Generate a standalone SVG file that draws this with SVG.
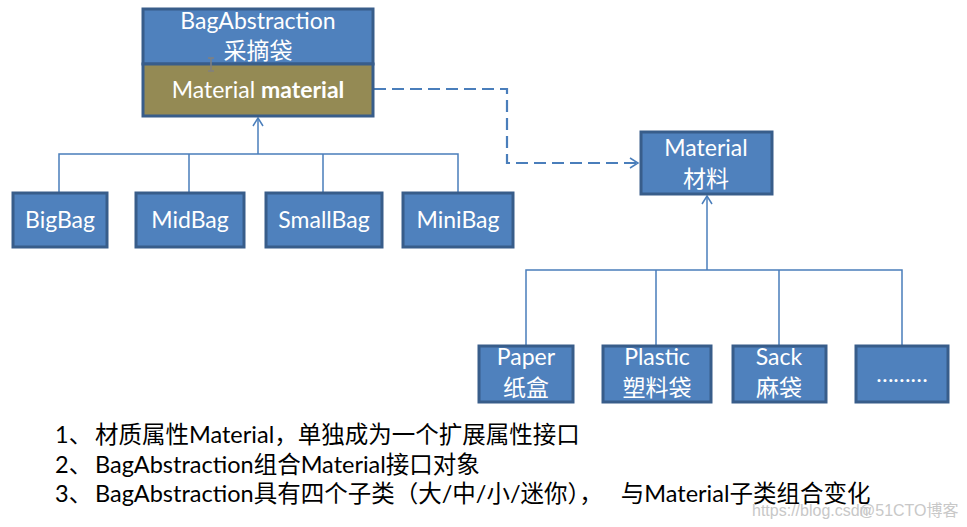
<svg xmlns="http://www.w3.org/2000/svg" width="967" height="527" viewBox="0 0 967 527">
<style>
.box{fill:#4f81bd;stroke:#385d8a;stroke-width:3}
.olive{fill:#948a54;stroke:#385d8a;stroke-width:3}
.t{font-family:Lato,"Noto Sans CJK SC",sans-serif;fill:#fff;font-size:23px;text-anchor:middle}
.c{font-family:"Noto Sans CJK SC",sans-serif;fill:#fff;font-size:23px;text-anchor:middle}
.ln{fill:none;stroke:#4a7ebb;stroke-width:1.5}
.dash{fill:none;stroke:#4a7ebb;stroke-width:2.2;stroke-dasharray:12,6}
.note{font-family:Lato,"Noto Sans CJK SC",sans-serif;fill:#000;font-size:23.5px}
.wm{font-family:"Liberation Sans","Noto Sans CJK SC",sans-serif;fill:#c8c8c8;font-size:16px}
</style>
<defs>
<marker id="arr" markerWidth="12" markerHeight="12" refX="10" refY="6" orient="auto" markerUnits="userSpaceOnUse">
<path d="M2,1 L10,6 L2,11" fill="none" stroke="#4a7ebb" stroke-width="1.5"/>
</marker>
</defs>
<g id="connectors">
<path class="ln" d="M59,192 V154 H458 V192 M189,192 V154 M323,192 V154"/>
<path class="ln" d="M258,154 V118" marker-end="url(#arr)"/>
<path class="ln" d="M526,346 V270 H902 V346 M656,346 V270 M779,346 V270"/>
<path class="ln" d="M707,270 V196" marker-end="url(#arr)"/>
<path class="dash" d="M374,89 H507 V163 H638" marker-end="url(#arr)"/>
</g>
<g id="BagAbstraction">
<rect class="box" x="143" y="9" width="230" height="55"/>
<rect class="olive" x="143" y="64" width="230" height="52"/>
<text class="t" x="258" y="29">BagAbstraction</text>
<text class="c" x="258" y="59">采摘袋</text>
<path d="M208,58 H214 M211,58 V71 M208,71 H214" stroke="#808080" stroke-width="1.5" fill="none"/>
<text class="t" x="258" y="98">Material <tspan font-weight="bold">material</tspan></text>
</g>
<g id="Material">
<rect class="box" x="641" y="132" width="131" height="62"/>
<text class="t" x="706" y="156">Material</text>
<text class="c" x="706" y="187">材料</text>
</g>
<g id="BigBag"><rect class="box" x="13" y="193" width="94" height="54"/><text class="t" x="60" y="228">BigBag</text></g>
<g id="MidBag"><rect class="box" x="136" y="193" width="108" height="54"/><text class="t" x="190" y="228">MidBag</text></g>
<g id="SmallBag"><rect class="box" x="266" y="193" width="116" height="54"/><text class="t" x="324" y="228">SmallBag</text></g>
<g id="MiniBag"><rect class="box" x="403" y="193" width="110" height="54"/><text class="t" x="458" y="228">MiniBag</text></g>
<g id="Paper"><rect class="box" x="479" y="346" width="94" height="56"/><text class="t" x="526" y="365">Paper</text><text class="c" x="526" y="396">纸盒</text></g>
<g id="Plastic"><rect class="box" x="603" y="346" width="108" height="56"/><text class="t" x="657" y="365">Plastic</text><text class="c" x="657" y="396">塑料袋</text></g>
<g id="Sack"><rect class="box" x="733" y="346" width="93" height="56"/><text class="t" x="779" y="365">Sack</text><text class="c" x="779" y="396">麻袋</text></g>
<g id="More"><rect class="box" x="856" y="346" width="92" height="56"/><text class="t" x="902" y="382">………</text></g>
<g id="notes">
<text class="note" x="55" y="443">1、<tspan x="95">材质属性Material，单独成为一个扩展属性接口</tspan></text>
<text class="note" x="55" y="473">2、<tspan x="95">BagAbstraction组合Material接口对象</tspan></text>
<text class="note" x="55" y="502">3、<tspan x="95">BagAbstraction具有四个子类（大/中/小/迷你），</tspan><tspan dx="18">与Material子类组合变化</tspan></text>
</g>
<g id="watermark">
<text class="wm" x="752" y="516">https://blog.csdn</text>
<text class="wm" x="859" y="516">@51CTO博客</text>
</g>
</svg>
